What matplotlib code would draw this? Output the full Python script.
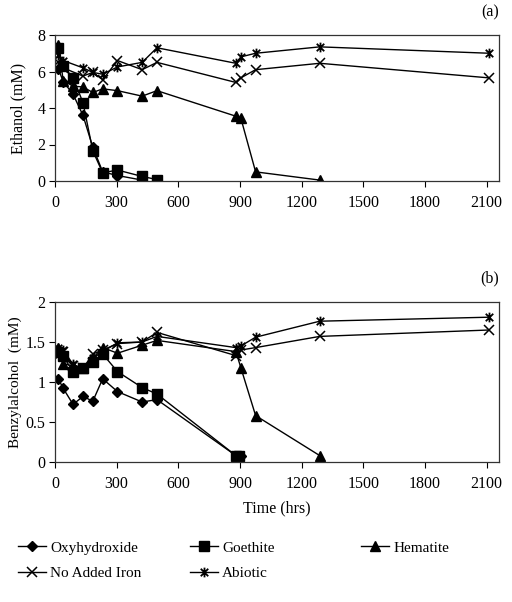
import matplotlib
matplotlib.use("Agg")
import matplotlib.pyplot as plt
from matplotlib.path import Path
from matplotlib.lines import Line2D

plt.rcParams['font.family'] = ['Liberation Serif', 'DejaVu Serif']

# ---------------- data ----------------
# (a) Ethanol (mM)
eth_oxy_t = [16, 40, 88, 136, 184, 232, 304, 424]
eth_oxy_v = [6.15, 5.45, 4.75, 3.6, 1.85, 0.5, 0.3, 0.05]
eth_goe_t = [16, 40, 88, 136, 184, 232, 304, 424, 496]
eth_goe_v = [7.3, 6.3, 5.65, 4.3, 1.65, 0.45, 0.6, 0.25, 0.08]
eth_hem_t = [16, 40, 88, 136, 184, 232, 304, 424, 496, 880, 904, 976, 1288]
eth_hem_v = [7.45, 5.5, 5.2, 5.15, 4.85, 5.05, 4.95, 4.65, 4.95, 3.55, 3.45, 0.5, 0.05]
eth_noi_t = [16, 40, 136, 184, 232, 304, 424, 496, 880, 904, 976, 1288, 2112]
eth_noi_v = [6.5, 6.2, 5.75, 5.95, 5.55, 6.6, 6.1, 6.5, 5.4, 5.65, 6.1, 6.45, 5.65]
eth_abi_t = [16, 40, 136, 184, 232, 304, 424, 496, 880, 904, 976, 1288, 2112]
eth_abi_v = [6.9, 6.6, 6.2, 5.95, 5.85, 6.25, 6.5, 7.3, 6.45, 6.8, 7.0, 7.35, 7.0]

# (b) Benzylalcohol (mM)
bz_oxy_t = [16, 40, 88, 136, 184, 232, 304, 424, 496, 880, 904]
bz_oxy_v = [1.04, 0.92, 0.72, 0.82, 0.76, 1.04, 0.88, 0.75, 0.78, 0.08, 0.08]
bz_goe_t = [16, 40, 88, 136, 184, 232, 304, 424, 496, 880, 896]
bz_goe_v = [1.38, 1.32, 1.13, 1.18, 1.25, 1.35, 1.13, 0.93, 0.85, 0.08, 0.08]
bz_hem_t = [16, 40, 88, 136, 184, 232, 304, 424, 496, 880, 904, 976, 1288]
bz_hem_v = [1.42, 1.23, 1.2, 1.18, 1.3, 1.43, 1.36, 1.46, 1.52, 1.38, 1.18, 0.58, 0.08]
bz_noi_t = [16, 40, 88, 136, 184, 232, 304, 424, 496, 880, 904, 976, 1288, 2112]
bz_noi_v = [1.33, 1.38, 1.2, 1.17, 1.35, 1.4, 1.48, 1.5, 1.62, 1.33, 1.4, 1.43, 1.57, 1.65]
bz_abi_t = [16, 40, 88, 136, 184, 232, 304, 424, 496, 880, 904, 976, 1288, 2112]
bz_abi_v = [1.42, 1.4, 1.22, 1.17, 1.3, 1.38, 1.49, 1.5, 1.57, 1.43, 1.45, 1.56, 1.76, 1.81]

labels = ["Oxyhydroxide", "Goethite", "Hematite", "No Added Iron", "Abiotic"]
x_ticks = [0, 300, 600, 900, 1200, 1500, 1800, 2100]

# ---------------- styles ----------------
star = Path([(-1, -1), (1, 1), (-1, 1), (1, -1), (0, -1.3), (0, 1.3)],
            [Path.MOVETO, Path.LINETO, Path.MOVETO, Path.LINETO, Path.MOVETO, Path.LINETO])
styles = [
    dict(marker='D', markersize=5),
    dict(marker='s', markersize=6.5),
    dict(marker='^', markersize=7),
    dict(marker='x', markersize=7, markeredgewidth=1.1),
    dict(marker=star, markersize=7, markeredgewidth=1.3),
]

fig = plt.figure(figsize=(5.12, 6.02), dpi=100)
W, H = 512, 602
def rect(l, t, r, b):
    return [l / W, 1 - b / H, (r - l) / W, (b - t) / H]

ax1 = fig.add_axes(rect(55, 35, 499, 181))
ax2 = fig.add_axes(rect(55, 302, 499, 462))

top = [(eth_oxy_t, eth_oxy_v), (eth_goe_t, eth_goe_v), (eth_hem_t, eth_hem_v),
       (eth_noi_t, eth_noi_v), (eth_abi_t, eth_abi_v)]
bot = [(bz_oxy_t, bz_oxy_v), (bz_goe_t, bz_goe_v), (bz_hem_t, bz_hem_v),
       (bz_noi_t, bz_noi_v), (bz_abi_t, bz_abi_v)]

for ax, data in [(ax1, top), (ax2, bot)]:
    for (t, v), st in zip(data, styles):
        ax.plot(t, v, color='black', lw=1.0, markerfacecolor='black',
                markeredgecolor='black', **st)
    ax.set_xlim(0, 2160)
    ax.set_xticks(x_ticks)
    ax.tick_params(axis='x', direction='out', length=4, width=0.8, labelsize=11.5, colors='black', pad=6)
    ax.tick_params(axis='y', direction='out', length=4, width=0.8, labelsize=11.5, colors='black', pad=3)
    for s in ax.spines.values():
        s.set_linewidth(0.9)
        s.set_color('#333333')

ax1.set_ylim(0, 8)
ax1.set_yticks([0, 2, 4, 6, 8])
ax1.set_ylabel("Ethanol (mM)", fontsize=11.5, va='center')
ax1.yaxis.set_label_coords((18 - 55) / 444, 0.5)

ax2.set_ylim(0, 2)
ax2.set_yticks([0, 0.5, 1, 1.5, 2])
ax2.set_yticklabels(["0", "0.5", "1", "1.5", "2"])
ax2.set_ylabel("Benzylalcohol  (mM)", fontsize=11, va='center')
ax2.yaxis.set_label_coords((15 - 55) / 444, 0.5)
ax2.set_xlabel("Time (hrs)", fontsize=11.5, labelpad=6)

fig.text(490 / W, 1 - 12 / H, "(a)", ha='center', va='center', fontsize=11.5)
fig.text(490 / W, 1 - 278 / H, "(b)", ha='center', va='center', fontsize=11.5)

handles = [Line2D([], [], color='black', lw=1.0, markerfacecolor='black',
                  markeredgecolor='black', **st) for st in styles]
columns = [([0, 3], 18), ([1, 4], 190), ([2], 361)]
for idx, xpix in columns:
    leg = fig.legend([handles[i] for i in idx], [labels[i] for i in idx],
                     loc='upper left', bbox_to_anchor=(xpix / W, 1 - 541 / H), ncol=1,
                     frameon=False, fontsize=11, handlelength=1.8, handletextpad=0.3,
                     labelspacing=0.75, borderaxespad=0, borderpad=0)

fig.savefig("out.png", dpi=100)
